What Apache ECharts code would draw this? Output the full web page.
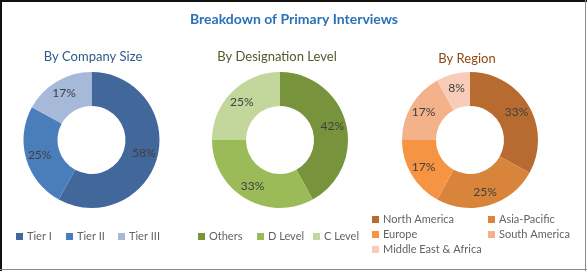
<!DOCTYPE html>
<html><head><meta charset="utf-8">
<script src="https://cdn.jsdelivr.net/npm/echarts@6/dist/echarts.min.js"></script>
<style>html,body{margin:0;padding:0;background:#fff}#c{width:588px;height:272px}</style>
</head><body><div id="c"></div>
<script>
const titleText = 'Breakdown of Primary Interviews';
const subTitles = ['By Company Size', 'By Designation Level', 'By Region'];
const companySizeCats = ['Tier I', 'Tier II', 'Tier III'];
const companySizeVals = [58, 25, 17];
const designationCats = ['Others', 'D Level', 'C Level'];
const designationVals = [42, 33, 25];
const regionCats = ['North America', 'Asia-Pacific', 'Europe', 'South America', 'Middle East & Africa'];
const regionVals = [33, 25, 17, 17, 8];

const companyColors = ['#41679B', '#4A7EBB', '#A7B9D8'];
const designationColors = ['#77933C', '#9BBB59', '#C3D69B'];
const regionColors = ['#B86B30', '#D8843B', '#F69444', '#F4B28A', '#F9CCBA'];

const FONT = 'Lato';
function mkData(cats, vals, colors) {
  return cats.map((n, i) => ({ name: n, value: vals[i], itemStyle: { color: colors[i] } }));
}
function mkPie(cats, vals, colors, cx) {
  return {
    type: 'pie', center: [cx, 140], radius: [34, 68], startAngle: 90, clockwise: true,
    avoidLabelOverlap: false, silent: true,
    label: { show: true, position: 'inside', formatter: '{c}%', color: '#404040', fontFamily: FONT, fontSize: 12 },
    labelLine: { show: false },
    itemStyle: { borderWidth: 0 },
    emphasis: { disabled: true },
    data: mkData(cats, vals, colors)
  };
}
function leg(name, left, cy) {
  return {
    data: [name], left: left, top: cy - 7, padding: 0, itemWidth: 7, itemHeight: 7, icon: 'rect',
    selectedMode: false, itemGap: 0,
    textStyle: { color: '#636363', fontFamily: FONT, fontSize: 11, padding: [0, 0, 0, -1] }
  };
}
const legends = [
  leg(companySizeCats[0], 16, 238), leg(companySizeCats[1], 66, 238), leg(companySizeCats[2], 118, 238),
  leg(designationCats[0], 198, 238), leg(designationCats[1], 257, 238), leg(designationCats[2], 313, 238),
  leg(regionCats[0], 372, 221), leg(regionCats[1], 488, 221),
  leg(regionCats[2], 372, 236), leg(regionCats[3], 488, 236),
  leg(regionCats[4], 372, 251)
];

const chart = echarts.init(document.getElementById('c'), null, { renderer: 'canvas' });
chart.setOption({
  animation: false,
  title: [
    { text: titleText, left: 'center', top: 7, textStyle: { color: '#2A72B8', fontFamily: FONT, fontWeight: 'bold', fontSize: 14 } },
    { text: subTitles[0], left: 88, textAlign: 'center', top: 45, textStyle: { color: '#2F5B8C', fontFamily: FONT, fontWeight: 'normal', fontSize: 13 } },
    { text: subTitles[1], left: 272, textAlign: 'center', top: 45, textStyle: { color: '#4F5B2B', fontFamily: FONT, fontWeight: 'normal', fontSize: 13 } },
    { text: subTitles[2], left: 462, textAlign: 'center', top: 47, textStyle: { color: '#8E4A14', fontFamily: FONT, fontWeight: 'normal', fontSize: 13 } }
  ],
  legend: legends,
  graphic: [
    { type: 'line', shape: { x1: 1, y1: 0, x2: 1, y2: 271 }, style: { stroke: '#111', lineWidth: 2 } },
    { type: 'line', shape: { x1: 0, y1: 1, x2: 587, y2: 1 }, style: { stroke: '#111', lineWidth: 2 } },
    { type: 'line', shape: { x1: 585.5, y1: 0, x2: 585.5, y2: 271 }, style: { stroke: '#8a8a8a', lineWidth: 1 } },
    { type: 'line', shape: { x1: 0, y1: 269.5, x2: 587, y2: 269.5 }, style: { stroke: '#8a8a8a', lineWidth: 1 } }
  ],
  series: [
    mkPie(companySizeCats, companySizeVals, companyColors, 91.5),
    mkPie(designationCats, designationVals, designationColors, 280),
    mkPie(regionCats, regionVals, regionColors, 470)
  ]
});
</script></body></html>
